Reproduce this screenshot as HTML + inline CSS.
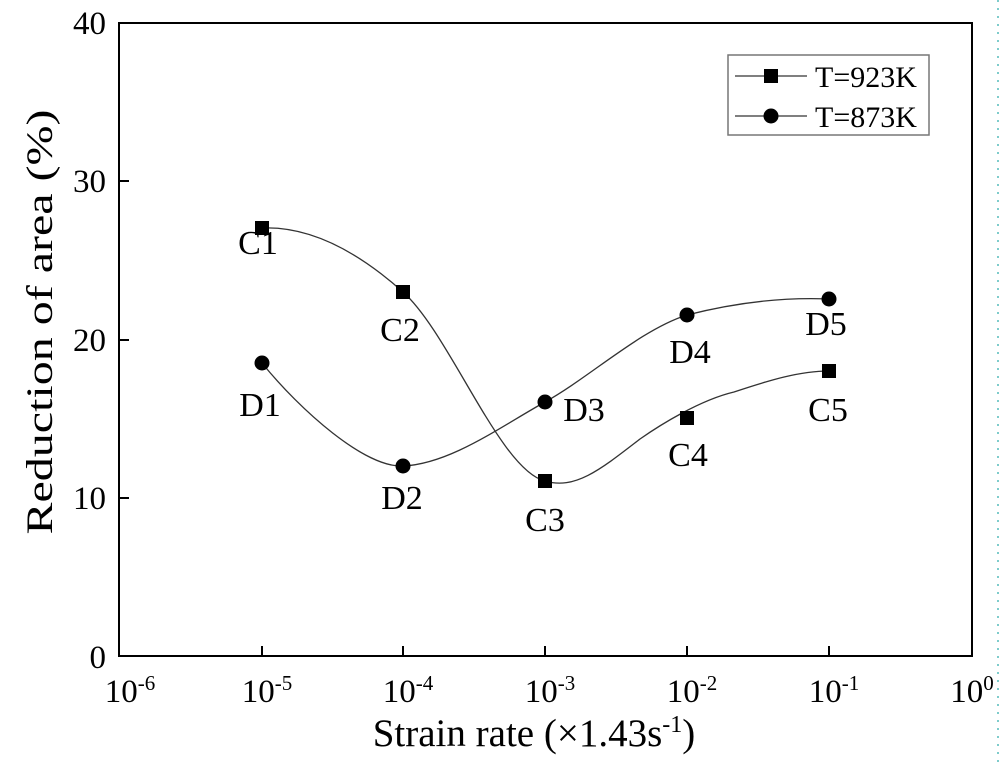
<!DOCTYPE html>
<html><head><style>body{margin:0;background:#fff}svg{display:block}text{font-family:"Liberation Serif",serif;fill:#000}</style></head><body>
<svg width="1000" height="762" viewBox="0 0 1000 762">
<line x1="998" y1="0" x2="998" y2="762" stroke="#5bb" stroke-width="1.5" stroke-dasharray="2,6"/>
<rect x="119" y="23" width="853" height="633" fill="none" stroke="#000" stroke-width="2"/>
<g stroke="#000" stroke-width="2">
<line x1="262" y1="656" x2="262" y2="646"/><line x1="403" y1="656" x2="403" y2="646"/><line x1="545" y1="656" x2="545" y2="646"/><line x1="687" y1="656" x2="687" y2="646"/><line x1="829" y1="656" x2="829" y2="646"/>
<line x1="119" y1="181" x2="129" y2="181"/><line x1="119" y1="340" x2="129" y2="340"/><line x1="119" y1="498" x2="129" y2="498"/>
</g>
<g font-size="33" text-anchor="end">
<text x="106" y="34">40</text><text x="106" y="192">30</text><text x="106" y="351">20</text><text x="106" y="509">10</text><text x="106" y="668">0</text>
</g>
<g font-size="33" text-anchor="middle">
<text x="130" y="702">10<tspan font-size="21" dy="-12">-6</tspan></text>
<text x="267" y="702">10<tspan font-size="21" dy="-12">-5</tspan></text>
<text x="408" y="702">10<tspan font-size="21" dy="-12">-4</tspan></text>
<text x="550" y="702">10<tspan font-size="21" dy="-12">-3</tspan></text>
<text x="692" y="702">10<tspan font-size="21" dy="-12">-2</tspan></text>
<text x="834" y="702">10<tspan font-size="21" dy="-12">-1</tspan></text>
<text x="972" y="702">10<tspan font-size="21" dy="-12">0</tspan></text>
</g>
<text x="534" y="746" font-size="39" text-anchor="middle">Strain rate (×1.43s<tspan font-size="24" dy="-14">-1</tspan><tspan dy="14">)</tspan></text>
<text transform="translate(52,322) rotate(-90)" font-size="37" text-anchor="middle" textLength="425" lengthAdjust="spacingAndGlyphs">Reduction of area (%)</text>
<g fill="none" stroke="#333" stroke-width="1.3">
<path d="M262,228 C309,226 356,250 403,292 C450,334 500,470 545,481 C575,490 600,470 640,439 C660,425 700,400 734,392 C770,380 800,371 829,371"/>
<path d="M262,363 C300,410 365,468 403,466 C450,464 500,427 545,402 C590,377 640,330 687,315 C734,303 782,297 829,299"/>
</g>
<g fill="#000">
<rect x="255" y="221" width="14" height="14"/><rect x="396" y="285" width="14" height="14"/><rect x="538" y="474" width="14" height="14"/><rect x="680" y="411" width="14" height="14"/><rect x="822" y="364" width="14" height="14"/>
<circle cx="262" cy="363" r="7.5"/><circle cx="403" cy="466" r="7.5"/><circle cx="545" cy="402" r="7.5"/><circle cx="687" cy="315" r="7.5"/><circle cx="829" cy="299" r="7.5"/>
</g>
<g font-size="34" text-anchor="middle">
<text x="258" y="254">C1</text><text x="400" y="341">C2</text><text x="260" y="416">D1</text><text x="402" y="509">D2</text><text x="545" y="531">C3</text><text x="584" y="421">D3</text><text x="688" y="466">C4</text><text x="690" y="363">D4</text><text x="826" y="335">D5</text><text x="828" y="421">C5</text>
</g>
<rect x="728" y="55" width="201" height="80" fill="#fff" stroke="#777" stroke-width="1.5"/>
<line x1="735" y1="76" x2="807" y2="76" stroke="#333" stroke-width="1.3"/>
<rect x="764" y="69" width="14" height="14"/>
<line x1="735" y1="116" x2="807" y2="116" stroke="#333" stroke-width="1.3"/>
<circle cx="771" cy="116" r="7.5"/>
<text x="815" y="87" font-size="30">T=923K</text>
<text x="815" y="127" font-size="30">T=873K</text>
</svg>
</body></html>
